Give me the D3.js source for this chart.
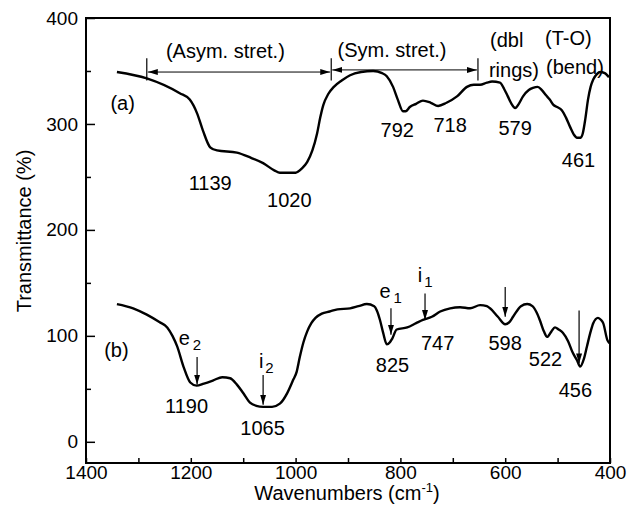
<!DOCTYPE html>
<html>
<head>
<meta charset="utf-8">
<script src="https://cdn.jsdelivr.net/npm/d3@7"></script>
<style>
  body { margin: 0; background: #fff; }
  text { font-family: "Liberation Sans", Arial, sans-serif; fill: #000; }
</style>
</head>
<body>
<div id="canvas"></div>
<script>
// spectrum (a): [wavenumber, transmittance]
var specA = [
  [1341,349],[1284,343],[1221,329],[1202,323],[1188,310],[1177,294],[1163,278],
  [1150,275],[1112,273],[1085,268],[1062,263],[1040,256],[1030,254],[1000,254],
  [988,258],[978,264],[968,275],[959,291],[953,306],[947,318],[938,328],[927,335],
  [912,341],[896,346],[875,349],[852,350],[835,348],[826,345],[814,335],[805,323],
  [795,312],[790,312],[782,316],[770,319],[757,322],[742,320],[728,317],[712,320],
  [692,326],[673,335],[660,337],[648,337],[635,339],[625,340],[610,339],[602,333],
  [595,326],[588,319],[581,315],[574,319],[566,326],[555,332],[547,334],[538,335],
  [530,332],[522,327],[515,323],[508,318],[501,316],[492,313],[484,306],[476,297],
  [469,290],[463,287],[456,287],[452,291],[447,305],[442,323],[437,335],[432,342],
  [425,347],[419,349],[410,348],[402,344]
];

// spectrum (b)
var specB = [
  [1341,130],[1310,126],[1284,120],[1260,113],[1245,108],[1235,100],[1226,90],
  [1214,71],[1201,56],[1189,53],[1175,55],[1157,58],[1140,61],[1125,60],[1112,54],
  [1100,46],[1087,37],[1075,34],[1062,33],[1045,33],[1030,36],[1016,46],[1005,58],
  [998,66],[992,80],[985,94],[978,104],[970,112],[962,117],[950,121],[935,123],[920,125],
  [896,126],[880,128],[864,130],[850,128],[845,124],[839,115],[833,103],[826,92],
  [820,94],[816,97],[807,106],[787,108],[770,112],[757,115],[740,118],[724,123],
  [705,126],[686,127],[667,126],[648,129],[635,128],[629,126],[614,118],[600,111],
  [592,113],[585,118],[570,128],[558,130],[548,128],[540,122],[534,115],[526,104],
  [520,99],[512,104],[505,108],[498,106],[490,103],[480,95],[471,84],[463,77],
  [457,71],[450,78],[444,90],[437,104],[432,112],[423,117],[417,115],[413,112],
  [405,96],[401,93]
];

var xTicks = [1400, 1200, 1000, 800, 600, 400];
var xMinor = [1300, 1100, 900, 700, 500];
var yTicks = [0, 100, 200, 300, 400];
var yMinor = [50, 150, 250, 350];

// peak labels and where they sit (wavenumber, transmittance of baseline centre)
var peaksA = ["(a)", "1139", "1020", "792", "718", "579", "461"];
var peaksAPos = [[1330,313],[1163,238],[1012,222],[806,288],[705,292],[581,290],[460,259]];
var peaksB = ["(b)", "1190", "1065", "825", "747", "598", "522", "456"];
var peaksBPos = [[1342,80],[1208,27],[1063,6],[815,66],[729,87],[600,87],[523,72],[466,42]];

// arrows on (b): wavenumber, top, bottom
var arrowsB = [[1188,80,54],[1062,63,35],[818,126,101],[753,140,115],[600,146,118],[459,124,74]];
var arrowNames = [["e","2"],["i","2"],["e","1"],["i","1"]];
var arrowNamePos = [[1223,91],[1070,70],[840,136],[767,151]];

// band ranges on (a)
var bands = [["(Asym. stret.)",1284,932],["(Sym. stret.)",932,652]];
var bandText = [[1134,362],[816,363]];
var groupText = [["(dbl",629,372.6],["rings)",631,344],["(T-O)",524,374.5],["(bend)",522,347.2]];

var width = 628, height = 518;
var canvas = d3.select("#canvas").append("svg")
    .attr("width", width).attr("height", height);

var x = d3.scaleLinear().domain([1400, 400]).range([86, 610]);
var y = d3.scaleLinear().domain([-20, 400]).range([463, 18]);

var defs = canvas.append("defs");
defs.append("marker").attr("id","head")
    .attr("viewBox","0 -4 10 8").attr("refX",10).attr("refY",0)
    .attr("markerWidth",10).attr("markerHeight",8)
    .attr("markerUnits","userSpaceOnUse").attr("orient","auto-start-reverse")
  .append("path").attr("d","M0,-3L10,0L0,3Z").attr("fill","#000");

// axes
var xAxis = d3.axisBottom(x).tickValues(xTicks.concat(xMinor))
    .tickSize(-5).tickPadding(2)
    .tickFormat(function(d){ return xTicks.indexOf(d) >= 0 ? d : ""; });
var gx = canvas.append("g").attr("transform","translate(0,463)").call(xAxis);
gx.select(".domain").remove();
gx.selectAll("text").attr("font-size",19).attr("font-family","Liberation Sans, Arial, sans-serif");
gx.selectAll("line").attr("stroke-width",1.5);

var yAxis = d3.axisLeft(y).tickValues(yTicks.concat(yMinor))
    .tickSize(-9).tickPadding(8)
    .tickFormat(function(d){ return yTicks.indexOf(d) >= 0 ? d : ""; });
var gy = canvas.append("g").attr("transform","translate(86,0)").call(yAxis);
gy.select(".domain").remove();
gy.selectAll("text").attr("font-size",19).attr("font-family","Liberation Sans, Arial, sans-serif");
gy.selectAll(".tick line").attr("stroke-width",1.5)
  .filter(function(d){ return yMinor.indexOf(d) >= 0; }).attr("x2",5);

canvas.append("rect")
    .attr("x", x(1400)).attr("y", y(400))
    .attr("width", x(400) - x(1400)).attr("height", y(-20) - y(400))
    .attr("fill","none").attr("stroke","#000").attr("stroke-width",2);

// spectra
var line = d3.line()
    .x(function(d){ return x(d[0]); })
    .y(function(d){ return y(d[1]); })
    .curve(d3.curveMonotoneX);

canvas.append("path").datum(specA).attr("d", line)
    .attr("fill","none").attr("stroke","#000").attr("stroke-width",2.4);
canvas.append("path").datum(specB).attr("d", line)
    .attr("fill","none").attr("stroke","#000").attr("stroke-width",2.4);

// labels
function labels(names, pos){
  for (var i = 0; i < names.length; i++){
    canvas.append("text")
        .attr("x", x(pos[i][0])).attr("y", y(pos[i][1]))
        .attr("text-anchor","middle").attr("font-size",20)
        .text(names[i]);
  }
}
labels(peaksA, peaksAPos);
labels(peaksB, peaksBPos);

// arrows on (b)
for (var a of arrowsB){
  canvas.append("line")
      .attr("x1", x(a[0])).attr("y1", y(a[1]))
      .attr("x2", x(a[0])).attr("y2", y(a[2]))
      .attr("stroke","#000").attr("stroke-width",1.2)
      .attr("marker-end","url(#head)");
}
for (var i = 0; i < arrowNames.length; i++){
  var t = canvas.append("text")
      .attr("x", x(arrowNamePos[i][0])).attr("y", y(arrowNamePos[i][1]))
      .attr("font-size",20);
  t.append("tspan").text(arrowNames[i][0]);
  t.append("tspan").attr("dx", arrowNames[i][0] == "e" ? 3 : 2).attr("dy",5)
      .attr("font-size",15).text(arrowNames[i][1]);
}

// band brackets on (a)
for (var i = 0; i < bands.length; i++){
  var b = bands[i];
  var ly = i == 0 ? 349 : 351;
  canvas.append("line")
      .attr("x1", x(b[1]) + 1).attr("y1", y(ly))
      .attr("x2", x(b[2]) - 1).attr("y2", y(ly))
      .attr("stroke","#000").attr("stroke-width",1)
      .attr("marker-start","url(#head)").attr("marker-end","url(#head)");
  canvas.append("text")
      .attr("x", x(bandText[i][0])).attr("y", y(bandText[i][1]))
      .attr("text-anchor","middle").attr("font-size",20)
      .text(b[0]);
}
for (var w of [1284, 932, 652]){
  canvas.append("line")
      .attr("x1", x(w)).attr("y1", y(362))
      .attr("x2", x(w)).attr("y2", y(341))
      .attr("stroke","#000").attr("stroke-width",1.2);
}
for (var g of groupText){
  canvas.append("text")
      .attr("x", x(g[1])).attr("y", y(g[2]))
      .attr("font-size",20).text(g[0]);
}

// axis titles
var xt = canvas.append("text")
    .attr("x", 347).attr("y", 500)
    .attr("text-anchor","middle").attr("font-size",20);
xt.append("tspan").text("Wavenumbers (cm");
xt.append("tspan").attr("dy",-8).attr("font-size",13).text("-1");
xt.append("tspan").attr("dy",8).text(")");

canvas.append("text")
    .attr("transform","translate(31,231) rotate(-90)")
    .attr("text-anchor","middle").attr("font-size",20)
    .text("Transmittance (%)");
</script>
</body>
</html>
